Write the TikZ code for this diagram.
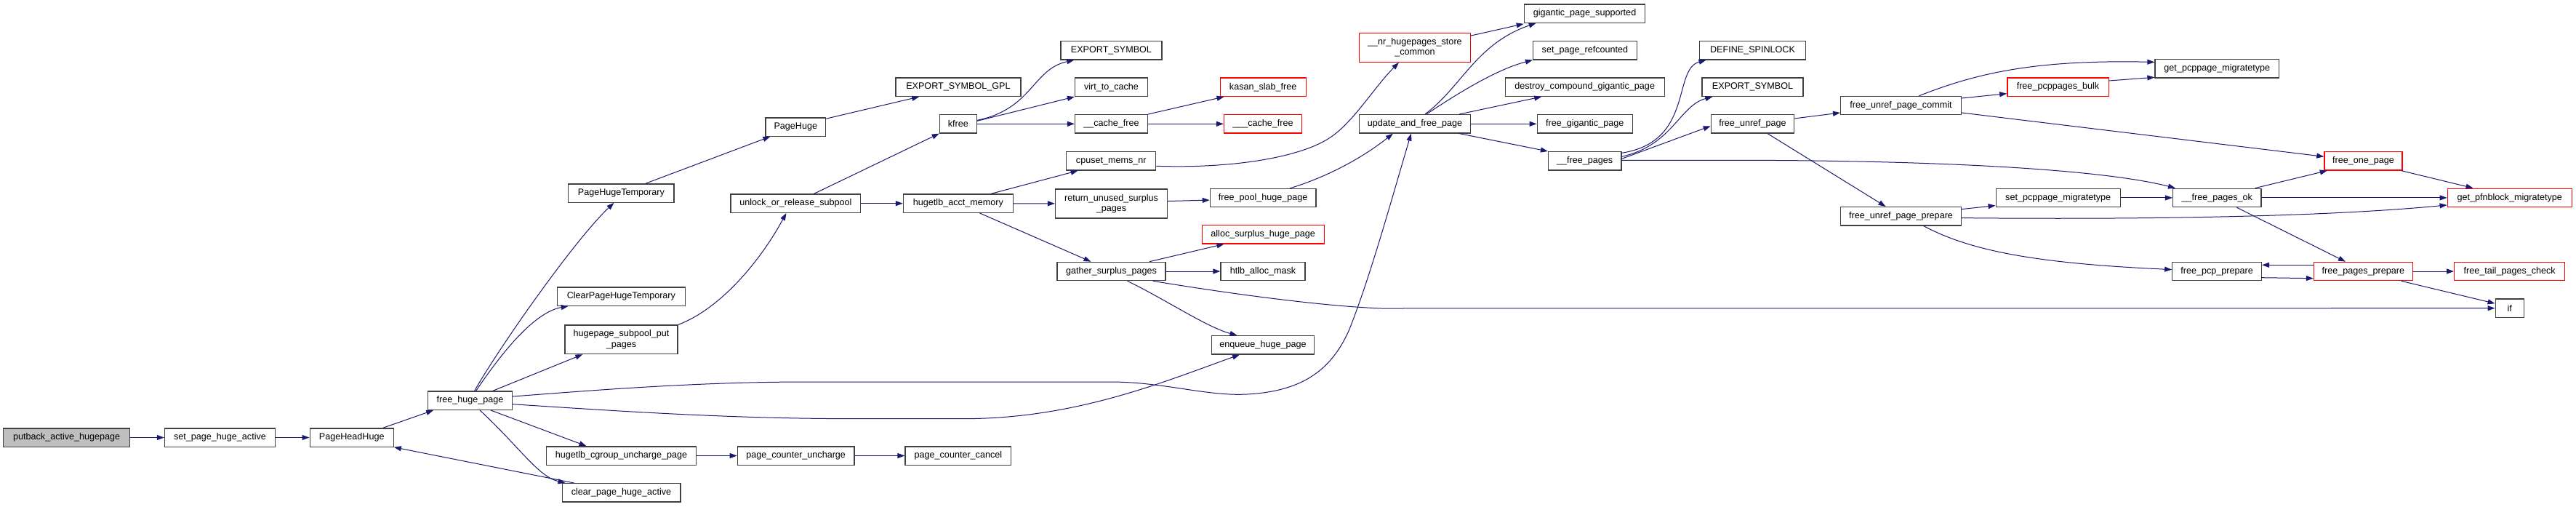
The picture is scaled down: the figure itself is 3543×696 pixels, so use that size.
\documentclass[tikz,border=0pt]{standalone}
\usepackage{fontspec}
\setmainfont{Liberation Sans}
\usetikzlibrary{arrows.meta}
\definecolor{edgeblue}{HTML}{191970}
\definecolor{rootgray}{HTML}{BFBFBF}
\definecolor{boxline}{HTML}{404040}

\begin{document}
\begin{tikzpicture}[x=1pt,y=-1pt,font=\fontsize{12.6}{14.2}\selectfont,
  fn/.style={draw=boxline,line width=1.3pt,inner sep=0pt,minimum height=25.3pt,align=center},
  fnred/.style={fn,draw=red},
  fnroot/.style={fn,fill=rootgray},
  call/.style={draw=edgeblue,line width=1pt,-{Triangle[length=10pt,width=7pt]}}]
  \useasboundingbox (0,0) rectangle (3543,696);

  % Functions, left to right
  \node[fnroot,minimum width=174pt] (putback) at (91.7,601.5) {putback\_active\_hugepage};
  \node[fn,minimum width=152pt] (sphactive) at (302.5,601.5) {set\_page\_huge\_active};
  \node[fn,minimum width=115pt] (headhuge) at (483.7,601.5) {PageHeadHuge};
  \node[fn,minimum width=115.6pt] (freehuge) at (646.6,550.7) {free\_huge\_page};

  \node[fn,minimum width=145.3pt] (hugetemp) at (854.4,265.5) {PageHugeTemporary};
  \node[fn,minimum width=176pt] (clrtemp) at (854.4,407.5) {ClearPageHugeTemporary};
  \node[fn,minimum width=155pt,minimum height=39.5pt] (subpoolput) at (854.5,466.8) {hugepage\_subpool\_put\\\_pages};
  \node[fn,minimum width=205.5pt] (cgunch) at (854.5,626.5) {hugetlb\_cgroup\_uncharge\_page};
  \node[fn,minimum width=162.7pt] (clractive) at (854.5,677.3) {clear\_page\_huge\_active};

  \node[fn,minimum width=82.6pt] (pagehuge) at (1094.3,174.5) {PageHuge};
  \node[fn,minimum width=178.7pt] (unlocksp) at (1094.4,279.7) {unlock\_or\_release\_subpool};
  \node[fn,minimum width=160.7pt] (pcuncharge) at (1094.7,626.5) {page\_counter\_uncharge};

  \node[fn,minimum width=172pt] (expgpl) at (1317.9,119.7) {EXPORT\_SYMBOL\_GPL};
  \node[fn,minimum width=51pt] (kfree) at (1317.9,170.3) {kfree};
  \node[fn,minimum width=151pt] (acctmem) at (1317.9,279.7) {hugetlb\_acct\_memory};
  \node[fn,minimum width=145.7pt] (pccancel) at (1317.9,626.5) {page\_counter\_cancel};

  \node[fn,minimum width=139pt] (expsym) at (1528.4,69.3) {EXPORT\_SYMBOL};
  \node[fn,minimum width=100pt] (virtcache) at (1528.5,119.7) {virt\_to\_cache};
  \node[fn,minimum width=100pt] (cachefree) at (1528.5,170.3) {\_\_cache\_free};
  \node[fn,minimum width=123pt] (memsnr) at (1528.3,221.3) {cpuset\_mems\_nr};
  \node[fn,minimum width=154pt,minimum height=40pt] (retsurplus) at (1528.5,279.9) {return\_unused\_surplus\\\_pages};
  \node[fn,minimum width=149pt] (gathersp) at (1528.5,373) {gather\_surplus\_pages};

  \node[fnred,minimum width=118pt] (kasanfree) at (1737.2,119.7) {kasan\_slab\_free};
  \node[fnred,minimum width=107pt] (cachefreeb) at (1737,170.3) {\_\_\_cache\_free};
  \node[fn,minimum width=145.7pt] (poolfree) at (1737.2,272.1) {free\_pool\_huge\_page};
  \node[fnred,minimum width=168pt] (allocsp) at (1737.2,322.2) {alloc\_surplus\_huge\_page};
  \node[fn,minimum width=116pt] (allocmask) at (1737,373) {htlb\_alloc\_mask};
  \node[fn,minimum width=141.4pt] (enqueue) at (1737,474.3) {enqueue\_huge\_page};

  \node[fnred,minimum width=153pt,minimum height=40pt] (nrstore) at (1945.9,65.3) {\_\_nr\_hugepages\_store\\\_common};
  \node[fn,minimum width=153pt] (updfree) at (1945.9,170.3) {update\_and\_free\_page};

  \node[fn,minimum width=166.4pt] (gigsupp) at (2179.5,18.5) {gigantic\_page\_supported};
  \node[fn,minimum width=142.7pt] (setref) at (2179.9,69.3) {set\_page\_refcounted};
  \node[fn,minimum width=219pt] (destroygig) at (2179.7,119.7) {destroy\_compound\_gigantic\_page};
  \node[fn,minimum width=131pt] (freegig) at (2179.7,170.3) {free\_gigantic\_page};
  \node[fn,minimum width=100.3pt] (freepages) at (2179.7,221.3) {\_\_free\_pages};

  \node[fn,minimum width=146.6pt] (spinlock) at (2410.5,69.3) {DEFINE\_SPINLOCK};
  \node[fn,minimum width=139pt] (expsymb) at (2410.5,119.7) {EXPORT\_SYMBOL};
  \node[fn,minimum width=114.4pt] (unref) at (2410.5,170.3) {free\_unref\_page};

  \node[fn,minimum width=165.7pt] (unrefcommit) at (2614.5,145) {free\_unref\_page\_commit};
  \node[fn,minimum width=165.7pt] (unrefprep) at (2614.5,297.2) {free\_unref\_page\_prepare};

  \node[fnred,minimum width=139.3pt] (pcpbulk) at (2830.5,119.7) {free\_pcppages\_bulk};
  \node[fn,minimum width=171pt] (setpcpmt) at (2830.7,271.9) {set\_pcppage\_migratetype};

  \node[fn,minimum width=170.6pt] (getpcpmt) at (3049.3,94.4) {get\_pcppage\_migratetype};
  \node[fn,minimum width=121.4pt] (freeok) at (3049.3,271.9) {\_\_free\_pages\_ok};
  \node[fn,minimum width=122.6pt] (pcpprep) at (3049.1,373) {free\_pcp\_prepare};

  \node[fnred,minimum width=107pt] (freeone) at (3250.4,221.3) {free\_one\_page};
  \node[fnred,minimum width=135.8pt] (pagesprep) at (3250.4,373) {free\_pages\_prepare};

  \node[fnred,minimum width=171pt] (getpfnmt) at (3451.7,271.9) {get\_pfnblock\_migratetype};
  \node[fnred,minimum width=152pt] (tailcheck) at (3451.7,373) {free\_tail\_pages\_check};
  \node[fn,minimum width=39pt] (iffn) at (3451.7,423.7) {if};

  % Calls
  \draw[call] (putback) -- (sphactive);
  \draw[call] (sphactive) -- (headhuge);
  \draw[call] ([xshift=-15pt]headhuge.north east) -- ([xshift=8pt]freehuge.south west);
  \draw[call] ([xshift=17pt]clractive.north west) -- (headhuge.south east);

  \draw[call] ([xshift=6pt]freehuge.north) .. controls (685,480) and (790,330) .. ([xshift=-10pt]hugetemp.south);
  \draw[call] ([xshift=8pt]freehuge.north) .. controls (680,500) and (730,430) .. ([xshift=16pt]clrtemp.south west);
  \draw[call] ([xshift=31pt]freehuge.north) -- ([xshift=25pt]subpoolput.south west);
  \draw[call] ([yshift=5.7pt]freehuge.east) .. controls (800,538) and (950,525) .. (1110,525) -- (1527,525)
    .. controls (1600,525) and (1660,545) .. (1715,542) .. controls (1790,538) and (1830,510) .. (1855,455)
    .. controls (1885,380) and (1915,270) .. ([xshift=-5pt]updfree.south);
  \draw[call] ([yshift=-5pt]freehuge.east) .. controls (850,565) and (1000,575.7) .. (1180,575.7) -- (1324,575.7)
    .. controls (1480,575.7) and (1600,525) .. ([xshift=-32pt]enqueue.south);
  \draw[call] ([xshift=28.4pt]freehuge.south) -- ([xshift=-48pt]cgunch.north);
  \draw[call] ([xshift=13.4pt]freehuge.south) .. controls (715,615) and (740,655) .. ([xshift=5pt]clractive.north west);

  \draw[call] ([xshift=33.6pt]hugetemp.north) -- ([xshift=7pt]pagehuge.south west);
  \draw[call] ([yshift=-2pt]pagehuge.north east) -- ([xshift=33pt]expgpl.south west);
  \draw[call] (subpoolput.north east) .. controls (990,425) and (1045,360) .. ([xshift=-13pt]unlocksp.south);
  \draw[call] ([xshift=25pt]unlocksp.north) -- (kfree.south west);
  \draw[call] (unlocksp) -- (acctmem);
  \draw[call] (cgunch) -- (pcuncharge);
  \draw[call] (pcuncharge) -- (pccancel);

  \draw[call] ([yshift=5pt]kfree.east) .. controls (1420,150) and (1420,95) .. ([xshift=19pt]expsym.south west);
  \draw[call] ([yshift=4pt]kfree.east) -- (virtcache.south west);
  \draw[call] (kfree) -- (cachefree);
  \draw[call] (cachefree.north east) -- ([xshift=6pt]kasanfree.south west);
  \draw[call] (cachefree) -- (cachefreeb);
  \draw[call] ([xshift=45pt]acctmem.north) -- ([xshift=16.5pt]memsnr.south west);
  \draw[call] (acctmem) -- (retsurplus);
  \draw[call] ([xshift=29.6pt]acctmem.south) -- ([xshift=-28pt]gathersp.north);
  \draw[call] ([yshift=3.4pt]retsurplus.east) -- ([yshift=-3pt]poolfree.west);
  \draw[call] ([xshift=52.5pt]gathersp.north) -- ([xshift=31pt]allocsp.south west);
  \draw[call] (gathersp) -- (allocmask);
  \draw[call] ([xshift=22pt]gathersp.south) .. controls (1600,410) and (1660,450) .. ([xshift=-35.5pt]enqueue.north);
  \draw[call] ([xshift=-18pt]gathersp.south east) .. controls (1650,397) and (1800,420) .. (1900,424) -- (iffn.west);
  \draw[call] ([yshift=-7pt]memsnr.east) .. controls (1700,232) and (1790,215) .. (1828,190)
    .. controls (1860,170) and (1890,120) .. ([xshift=-22pt]nrstore.south);
  \draw[call] ([xshift=37pt]poolfree.north) .. controls (1820,245) and (1870,220) .. ([xshift=-30pt]updfree.south);

  \draw[call] ([yshift=-4.4pt]nrstore.north east) -- ([yshift=-1pt]gigsupp.south west);
  \draw[call] ([xshift=14pt]updfree.north) .. controls (2010,120) and (2030,60) .. ([xshift=17pt]gigsupp.south west);
  \draw[call] ([xshift=16pt]updfree.north) .. controls (2010,125) and (2060,95) .. (setref.south west);
  \draw[call] ([xshift=-16pt]updfree.north east) -- ([xshift=50.6pt]destroygig.south west);
  \draw[call] (updfree) -- (freegig);
  \draw[call] ([xshift=-16pt]updfree.south east) -- (freepages.north west);

  \draw[call] ([yshift=11pt]freepages.east) .. controls (2330,195) and (2300,95) .. ([xshift=10pt]spinlock.south west);
  \draw[call] ([yshift=6pt]freepages.east) .. controls (2300,200) and (2310,145) .. ([xshift=15pt]expsymb.south west);
  \draw[call] ([yshift=3pt]freepages.east) -- ([yshift=-3pt]unref.west);
  \draw[call] ([yshift=1pt]freepages.east) -- (2400,220.3) .. controls (2700,221) and (2900,235) .. ([xshift=4pt]freeok.north west);
  \draw[call] ([yshift=7.4pt]unref.east) -- ([yshift=-10pt]unrefcommit.west);
  \draw[call] ([xshift=20.5pt]unref.south) -- ([xshift=-21pt]unrefprep.north);

  \draw[call] ([xshift=25pt]unrefcommit.north) .. controls (2720,100) and (2800,82) .. ([yshift=9pt]getpcpmt.west);
  \draw[call] ([yshift=10pt]unrefcommit.east) -- ([yshift=-9pt]pcpbulk.west);
  \draw[call] ([yshift=-10pt]unrefcommit.east) -- ([yshift=6pt]freeone.west);
  \draw[call] ([yshift=8.7pt]pcpbulk.east) -- ([yshift=1.4pt]getpcpmt.south west);
  \draw[call] ([yshift=9.6pt]unrefprep.east) -- ([yshift=2.6pt]setpcpmt.south west);
  \draw[call] ([yshift=-2.4pt]unrefprep.east) .. controls (2950,302) and (3200,298) .. ([yshift=-10pt]getpfnmt.west);
  \draw[call] ([xshift=31pt]unrefprep.south) .. controls (2710,345) and (2800,362) .. ([yshift=2.4pt]pcpprep.west);
  \draw[call] (setpcpmt) -- (freeok);

  \draw[call] ([xshift=-9pt]freeok.north east) -- ([xshift=4.5pt]freeone.south west);
  \draw[call] (freeok) -- (getpfnmt);
  \draw[call] ([xshift=27pt]freeok.south) -- ([xshift=-24.4pt]pagesprep.north);
  \draw[call] ([xshift=-2pt]freeone.south east) -- ([xshift=36pt]getpfnmt.north west);
  \draw[call] ([yshift=-8.7pt]pcpprep.east) -- ([yshift=-9.7pt]pagesprep.west);
  \draw[call] ([yshift=8.7pt]pagesprep.west) -- ([yshift=8.7pt]pcpprep.east);
  \draw[call] (pagesprep) -- (tailcheck);
  \draw[call] ([xshift=-16.4pt]pagesprep.south east) -- ([yshift=6.5pt]iffn.west);
\end{tikzpicture}
\end{document}
